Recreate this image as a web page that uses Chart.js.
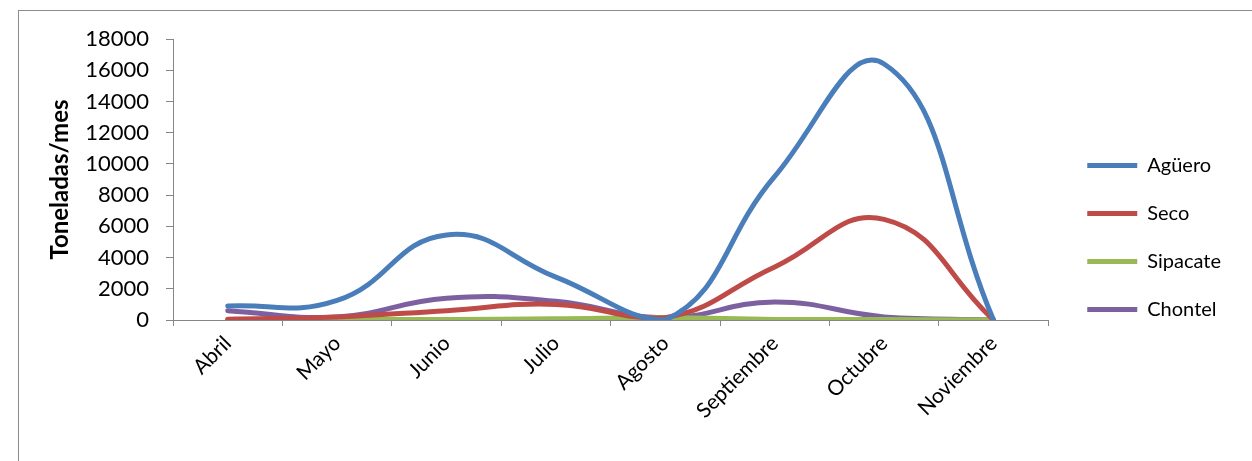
<!DOCTYPE html>
<html lang="es">
<head>
<meta charset="UTF-8">
<script src="https://cdn.jsdelivr.net/npm/chart.js"></script>
<style>
    html, body { margin: 0; padding: 0; background: #fff; }
    .frame { position: absolute; left: 18px; top: 10px; width: 1300px; height: 500px; border: 1px solid #8c8c8c; }
    .wrap { position: absolute; left: 0; top: 0; width: 1252px; height: 461px; }
</style>
</head>
<body>
<div class="frame"></div>
<div class="wrap"><canvas id="toneladas" width="1252" height="461"></canvas></div>
<script>
    const meses = ['Abril', 'Mayo', 'Junio', 'Julio', 'Agosto', 'Septiembre', 'Octubre', 'Noviembre'];
    const aguero = [900, 1250, 5450, 2750, 0, 9200, 16400, 0];
    const seco = [50, 200, 600, 1000, 150, 3400, 6450, 0];
    const sipacate = [30, 30, 40, 80, 150, 40, 30, 0];
    const chontel = [600, 200, 1400, 1200, 150, 1150, 200, 0];

    const axisColor = '#868686';
    const font = "Lato, 'Open Sans', sans-serif";

    function serie(label, data, color) {
        return {
            label: label,
            data: data,
            borderColor: color,
            backgroundColor: color,
            borderWidth: 5,
            borderCapStyle: 'round',
            pointRadius: 0,
            pointStyle: 'line',
            tension: 0.45,
        };
    }

    // push the legend a little further from the plot, like the original
    const legendShift = {
        id: 'legendShift',
        afterLayout: function (chart) {
            if (chart.legend) {
                chart.legend.left += 11;
                chart.legend.right += 11;
            }
        }
    };

    new Chart(document.getElementById('toneladas'), {
        type: 'line',
        data: {
            labels: meses,
            datasets: [
                serie('Agüero', aguero, '#4a7ebb'),
                serie('Seco', seco, '#be4b48'),
                serie('Sipacate', sipacate, '#98b954'),
                serie('Chontel', chontel, '#7d60a0'),
            ]
        },
        options: {
            responsive: false,
            animation: false,
            layout: { padding: { top: 39, right: 32, left: 0, bottom: 25 } },
            plugins: {
                legend: {
                    position: 'right',
                    labels: {
                        usePointStyle: true,
                        pointStyleWidth: 50,
                        padding: 28,
                        color: '#000',
                        font: { family: font, size: 20 }
                    }
                },
                tooltip: { enabled: false }
            },
            scales: {
                x: {
                    offset: true,
                    grid: { offset: true, drawOnChartArea: false, tickLength: 6, color: axisColor },
                    border: { color: axisColor },
                    ticks: {
                        color: '#000',
                        maxRotation: 45,
                        minRotation: 45,
                        padding: 5,
                        font: { family: font, size: 21 }
                    },
                    afterFit: function (scale) { scale.height = 116; }
                },
                y: {
                    min: 0,
                    max: 18000,
                    ticks: {
                        stepSize: 2000,
                        color: '#000',
                        padding: 17,
                        font: { family: font, size: 22 },
                        callback: function (v) { return String(v); }
                    },
                    grid: { drawOnChartArea: false, tickLength: 7, color: axisColor },
                    border: { color: axisColor },
                    title: {
                        display: true,
                        text: 'Toneladas/mes',
                        color: '#000',
                        padding: { top: 46, bottom: 0 },
                        font: { family: font, size: 24, weight: 'bold' }
                    },
                    afterFit: function (scale) { scale.width = 173; }
                }
            }
        },
        plugins: [legendShift]
    });
</script>
</body>
</html>
